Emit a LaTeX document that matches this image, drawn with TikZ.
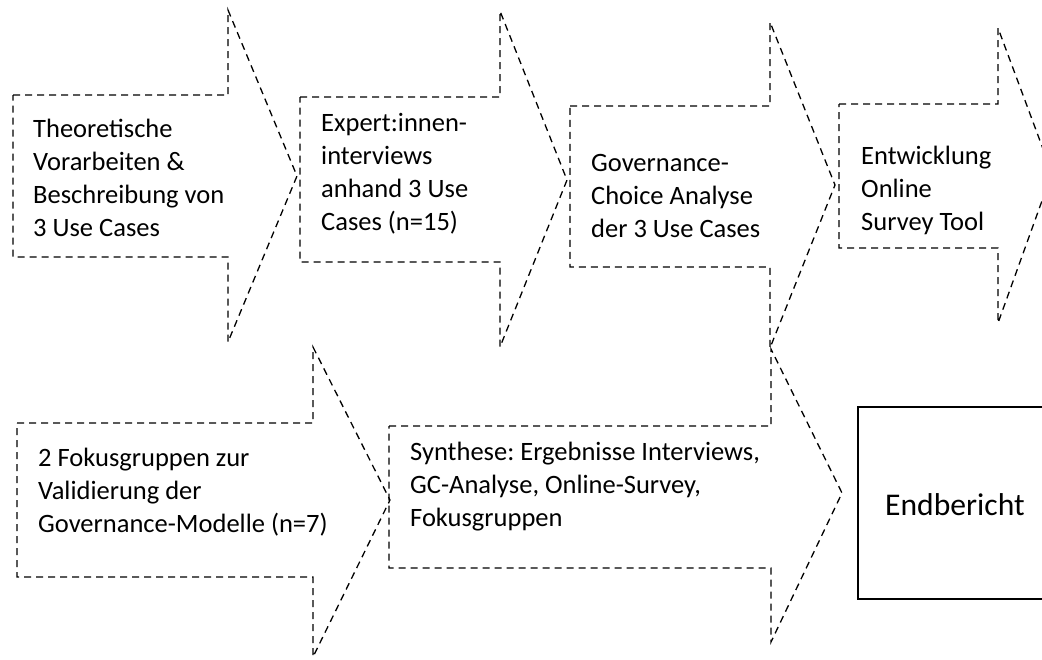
\documentclass[tikz,border=0pt]{standalone}
\usepackage{fontspec}
\setmainfont{Carlito}
\frenchspacing
\tikzset{
  phase/.style={dash pattern=on 7pt off 5pt, line width=1.3pt, line join=miter},
  phasetext/.style={anchor=base west, align=left, inner sep=0pt, font=\fontsize{26.5}{32.7}\selectfont},
}
\begin{document}
\begin{tikzpicture}[x=1pt,y=-1pt]
	\useasboundingbox (0,0) rectangle (1042,659);
	\clip (0,0) rectangle (1042,659);
%	erste Reihe (Knoten sitzen auf der letzten Grundlinie)
	\draw[phase] (13,95) -- (228,95) -- (228,10) -- (297,176) -- (228,342) -- (228,257) -- (13,257) -- cycle;
	\draw[phase] (300,97) -- (500,97) -- (500,11) -- (567,180) -- (500,347) -- (500,262) -- (300,262) -- cycle;
	\draw[phase] (570,106) -- (770,106) -- (770,22) -- (835,185) -- (770,348) -- (770,267) -- (570,267) -- cycle;
	\draw[phase] (839,104) -- (998,104) -- (998,28) -- (1052,173) -- (998,323) -- (998,248) -- (839,248) -- cycle;
	\node[phasetext] (theorie) at (33,236) {Theoretische\\Vorarbeiten \&\\Beschreibung von\\3 Use Cases};
	\node[phasetext] (interviews) at (321,230) {Expert:innen-\\interviews\\anhand 3 Use\\Cases (n=15)};
	\node[phasetext] (gcanalyse) at (591,237) {Governance-\\Choice Analyse\\der 3 Use Cases};
	\node[phasetext] (survey) at (861,230) {Entwicklung\\Online\\Survey Tool};
%	zweite Reihe
	\draw[phase] (17,423) -- (313,423) -- (313,347) -- (390,500) -- (313,657) -- (313,577) -- (17,577) -- cycle;
	\draw[phase] (389,426) -- (771,426) -- (771,349) -- (842,493) -- (771,642) -- (771,568) -- (389,568) -- cycle;
	\node[phasetext] (fokus) at (38,532) {2 Fokusgruppen zur\\Validierung der\\Governance-Modelle (n=7)};
	\node[phasetext] (synthese) at (410,526) {Synthese: Ergebnisse Interviews,\\GC-Analyse, Online-Survey,\\Fokusgruppen};
	\draw[line width=2pt] (858,407) rectangle (1060,599);
	\node[anchor=base west, inner sep=0pt, font=\fontsize{31.6}{38}\selectfont] (endbericht) at (885,515) {Endbericht};
\end{tikzpicture}
\end{document}
